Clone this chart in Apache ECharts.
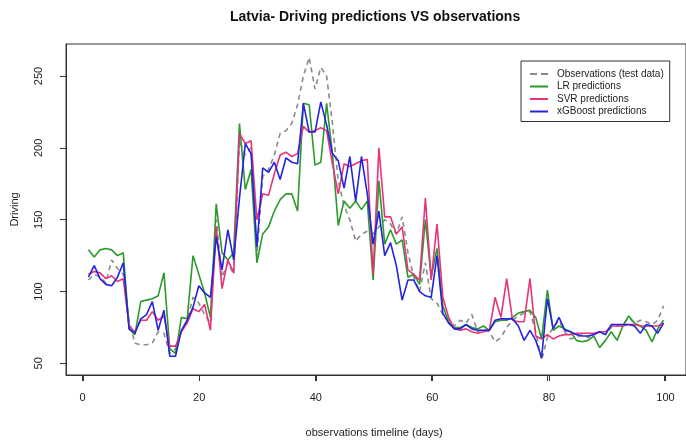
<!DOCTYPE html>
<html>
<head>
<meta charset="utf-8">
<script src="https://cdn.jsdelivr.net/npm/echarts@6/dist/echarts.min.js"></script>
<style>html,body{margin:0;padding:0;background:#fff;}#c{width:686px;height:445px;}</style>
</head>
<body>
<div id="c"></div>
<script>
// Values (days 1..100)
var observations = [108,112,110,106,122,116,112,80,64,63,63,64,72,71,57,60,72,80,96,92,
  84,78,150,110,120,112,205,195,200,125,180,185,195,210,212,217,230,250,263,241,
  256,250,217,177,160,150,135,140,142,140,145,150,147,140,152,127,110,100,120,95,
  92,84,80,76,80,78,84,72,74,72,65,68,75,80,83,85,86,72,52,68,
  75,80,72,67,68,70,68,70,72,70,75,76,77,82,78,80,79,77,80,90];
var lrPred = [129,124,129,130,129,125,127,74,70,93,94,95,97,113,60,57,82,81,125,112,
  99,82,161,127,122,127,217,171,185,120,140,145,156,164,168,168,156,231,230,188,
  190,231,196,146,163,158,163,157,163,108,177,133,143,133,136,110,112,105,150,110,
  130,90,79,75,75,77,75,74,76,73,79,80,80,82,85,86,87,82,67,101,
  73,76,74,72,66,65,66,69,61,66,72,66,76,83,78,76,73,65,74,80];
var svrPred = [112,114,113,109,111,107,109,76,72,80,80,86,80,83,62,62,72,78,88,86,
  91,73,145,102,122,113,210,203,205,150,168,167,182,195,197,194,196,215,211,212,
  214,212,189,168,189,187,189,191,192,112,200,152,152,140,145,115,112,108,165,108,
  147,96,82,74,73,74,72,71,72,73,96,82,109,80,79,79,109,69,67,70,
  67,69,70,70,71,71,71,71,72,72,76,76,76,77,77,76,76,76,76,78];
var xgbPred = [110,118,109,105,104,110,120,74,71,81,84,93,73,87,55,55,73,80,89,104,
  99,96,138,115,143,122,165,203,196,131,186,183,190,178,193,190,189,231,211,211,
  232,216,196,191,172,194,163,194,168,133,156,125,134,118,94,108,108,100,97,96,
  125,85,78,74,74,77,74,73,73,73,80,81,81,81,76,66,73,66,54,95,
  74,82,73,72,70,69,69,70,72,70,77,77,77,77,76,71,77,76,71,78];
var seriesNames = ['Observations (test data)','LR predictions','SVR predictions','xGBoost predictions'];
var xTicks = [0,20,40,60,80,100];
var yTicks = [50,100,150,200,250];

function pairs(arr){ return arr.map(function(v,i){ return [i+1, v]; }); }

var X_MIN = -2.86, X_MAX = 103.86, Y_MIN = 41.9, Y_MAX = 272.3;
var chart = echarts.init(document.getElementById('c'), null, {renderer:'canvas'});
var font = 'Liberation Sans, Arial, sans-serif';
var solidIcon = 'path://M0,0h18v2h-18z';
var dashIcon = 'path://M0,0h7v2h-7zM11,0h7v2h-7z';
var pxPerDay = 622 / (X_MAX - X_MIN);
chart.setOption({
  animation:false,
  backgroundColor:'#ffffff',
  title:{
    text:'Latvia- Driving predictions VS observations',
    left:225, top:5,
    textStyle:{fontFamily:font, fontSize:14, fontWeight:'bold', color:'#111'}
  },
  legend:{
    orient:'vertical', left:521, top:61,
    padding:[8,6,5,9],
    borderColor:'#333', borderWidth:1, backgroundColor:'#fff',
    itemWidth:18, itemHeight:2, itemGap:2.5, symbolKeepAspect:false,
    textStyle:{fontFamily:font, fontSize:10, color:'#222', lineHeight:10, padding:[0,0,0,4]},
    data:[
      {name:seriesNames[0], icon:dashIcon},
      {name:seriesNames[1], icon:solidIcon},
      {name:seriesNames[2], icon:solidIcon},
      {name:seriesNames[3], icon:solidIcon}
    ]
  },
  grid:[
    {left:66, top:44, width:622, height:331, show:true, borderColor:'#333', borderWidth:1, backgroundColor:'transparent'},
    {left:66 - X_MIN * pxPerDay, top:44, width:100 * pxPerDay, height:331, show:false}
  ],
  xAxis:[
    {
      gridIndex:0, type:'value', min:X_MIN, max:X_MAX,
      axisLine:{show:true, onZero:false, lineStyle:{color:'#333', width:1}},
      splitLine:{show:false}, axisTick:{show:false}, axisLabel:{show:false}
    },
    {
      gridIndex:1, type:'value', min:0, max:100, interval:20, position:'bottom',
      name:'observations timeline (days)', nameLocation:'middle', nameGap:52,
      nameTextStyle:{fontFamily:font, fontSize:11, color:'#222'},
      axisLine:{show:false, onZero:false},
      splitLine:{show:false},
      axisTick:{show:true, length:6, inside:false, lineStyle:{color:'#333'}},
      axisLabel:{margin:17, fontFamily:font, fontSize:11, color:'#222'}
    }
  ],
  yAxis:[
    {
      gridIndex:0, type:'value', min:Y_MIN, max:Y_MAX,
      name:'Driving', nameLocation:'middle', nameGap:46, nameRotate:90,
      nameTextStyle:{fontFamily:font, fontSize:11, color:'#222'},
      axisLine:{show:true, onZero:false, lineStyle:{color:'#333', width:1}},
      splitLine:{show:false},
      axisTick:{show:true, customValues:yTicks, length:6, inside:false, lineStyle:{color:'#333'}},
      axisLabel:{customValues:yTicks, rotate:90, margin:22, fontFamily:font, fontSize:11, color:'#222'}
    },
    {
      gridIndex:1, type:'value', min:Y_MIN, max:Y_MAX, show:false
    }
  ],
  series:[
    {name:seriesNames[0], type:'line', symbol:'none', data:pairs(observations),
     lineStyle:{color:'#8a8a8a', width:1.6, type:[5,4]}, itemStyle:{color:'#8a8a8a'}},
    {name:seriesNames[1], type:'line', symbol:'none', data:pairs(lrPred),
     lineStyle:{color:'#2a9a2a', width:1.6}, itemStyle:{color:'#2a9a2a'}},
    {name:seriesNames[2], type:'line', symbol:'none', data:pairs(svrPred),
     lineStyle:{color:'#e6337a', width:1.6}, itemStyle:{color:'#e6337a'}},
    {name:seriesNames[3], type:'line', symbol:'none', data:pairs(xgbPred),
     lineStyle:{color:'#2323e0', width:1.6}, itemStyle:{color:'#2323e0'}},
    {
      name:'xticks', type:'custom', silent:true, clip:false, z:5,
      xAxisIndex:0, yAxisIndex:0,
      data:xTicks.map(function(t){ return [t, Y_MIN]; }),
      renderItem:function(params, api){
        var p = api.coord([api.value(0), api.value(1)]);
        var x = Math.round(p[0]) + 0.5;
        return {type:'line', shape:{x1:x, y1:p[1], x2:x, y2:p[1] + 6},
                style:{stroke:'#333', lineWidth:1}};
      }
    }
  ]
});
</script>
</body>
</html>
